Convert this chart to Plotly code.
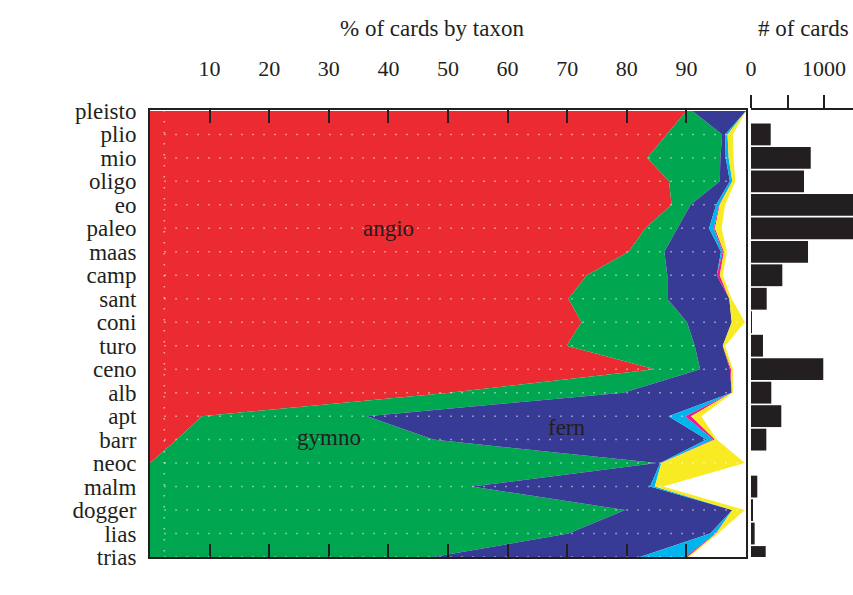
import plotly.graph_objects as go

# Stratigraphic stages, youngest at the top
stages = ["pleisto", "plio", "mio", "oligo", "eo", "paleo", "maas", "camp", "sant",
          "coni", "turo", "ceno", "alb", "apt", "barr", "neoc", "malm", "dogger",
          "lias", "trias"]

# Percentage of cards per taxon in each stage
angio = [90.0, 86.7, 83.4, 87.1, 87.5, 83.1, 80.3, 73.3, 70.2, 72.4, 69.9, 84.7,
         50.3, 8.7, 4.5, 0.0, 0.0, 0.0, 0.0, 0.0]
gymno = [1.0, 9.3, 12.3, 8.5, 3.2, 5.4, 6.0, 13.5, 16.6, 17.7, 21.5, 7.6,
         29.1, 27.7, 43.0, 85.0, 54.0, 79.7, 70.2, 47.5]
fern = [9.0, 0.5, 0.9, 1.7, 4.3, 5.3, 9.5, 8.3, 10.4, 7.5, 4.7, 5.0,
        18.2, 50.6, 45.9, 0.6, 29.9, 18.0, 23.8, 34.7]
group_c = [0.0, 0.4, 0.5, 0.4, 0.5, 0.8, 0.3, 0.0, 0.0, 0.0, 0.0, 0.0,
           0.0, 2.8, 1.1, 0.2, 0.8, 0.0, 0.9, 7.6]
group_m = [0.0, 0.0, 0.0, 0.0, 0.1, 0.2, 0.2, 0.5, 0.0, 0.0, 0.0, 0.2,
           0.0, 1.0, 0.3, 0.0, 0.0, 0.0, 0.1, 0.4]
group_y = [0.0, 0.9, 0.8, 0.5, 0.9, 1.1, 0.5, 0.5, 0.4, 2.2, 0.4, 0.3,
           0.2, 1.7, 0.3, 14.0, 1.4, 2.1, 0.3, 0.3]

# Total number of cards per stage
cards = [0, 270, 818, 726, 1600, 1550, 781, 429, 215, 10, 164, 990,
         278, 415, 210, 0, 86, 15, 50, 201]

pct_ticks = [10, 20, 30, 40, 50, 60, 70, 80, 90]
card_ticks = [0, 500, 1000]
card_ticktext = ["0", "", "1000"]

series = [
    ("angio", angio, "#EB2A31"),
    ("gymno", gymno, "#00A650"),
    ("fern", fern, "#373B95"),
    ("group c", group_c, "#00B4EE"),
    ("group m", group_m, "#EC1C8D"),
    ("group y", group_y, "#F8EB24"),
]

INK = "#231F20"
FONT = "Liberation Serif"
W, H = 853, 595

# pixel layout helpers
def px_x(p):
    return p / W

def px_y(p):
    return 1 - p / H

fig = go.Figure()

for name, vals, col in series:
    fig.add_trace(go.Scatter(
        x=vals, y=stages, name=name, stackgroup="taxa", orientation="h",
        mode="lines", line=dict(width=0, color=col), fillcolor=col,
        hoverinfo="x+y+name", showlegend=False,
    ))

fig.add_trace(go.Bar(
    x=cards, y=stages, orientation="h", xaxis="x2", yaxis="y2",
    marker=dict(color=INK, line=dict(width=0)), showlegend=False,
))

# dotted white guides over the stacked areas
DOT = dict(color="rgba(255,255,255,0.6)", width=1.5, dash="1.5px,9.5px")
shapes = []
for i in range(1, len(stages)):
    shapes.append(dict(type="line", xref="x", yref="y", x0=2.4, x1=100,
                       y0=i, y1=i, layer="above", line=DOT))
shapes.append(dict(type="line", xref="x", yref="y", x0=2.4, x1=2.4,
                   y0=-0.04, y1=19, layer="above", line=DOT))

annotations = [
    dict(text="% of cards by taxon", xref="paper", yref="paper",
         x=px_x(432), y=px_y(28), showarrow=False, xanchor="center",
         yanchor="middle", font=dict(family=FONT, size=23, color=INK)),
    dict(text="# of cards", xref="paper", yref="paper",
         x=px_x(803), y=px_y(28), showarrow=False, xanchor="center",
         yanchor="middle", font=dict(family=FONT, size=23, color=INK)),
    dict(text="angio", xref="x", yref="y", x=40, y=5, showarrow=False,
         font=dict(family=FONT, size=23, color=INK)),
    dict(text="gymno", xref="x", yref="y", x=30, y=13.9, showarrow=False,
         font=dict(family=FONT, size=23, color=INK)),
    dict(text="fern", xref="x", yref="y", x=70, y=13.5, showarrow=False,
         font=dict(family=FONT, size=23, color=INK)),
]

ydom = [px_y(557), px_y(110)]

fig.update_layout(
    width=W, height=H,
    margin=dict(l=0, r=0, t=0, b=0, autoexpand=False),
    paper_bgcolor="white", plot_bgcolor="white",
    bargap=0.07,
    shapes=shapes, annotations=annotations,
    xaxis=dict(
        domain=[px_x(150), px_x(746)], range=[0, 100], side="top",
        tickmode="array", tickvals=pct_ticks, ticks="inside", ticklen=13,
        tickwidth=2, tickcolor=INK, showline=True, linewidth=2,
        linecolor=INK, mirror="ticks", showgrid=False, zeroline=False,
        tickfont=dict(family=FONT, size=22, color=INK),
        ticklabelstandoff=23, anchor="y", automargin=False,
    ),
    yaxis=dict(
        domain=ydom, type="category", categoryorder="array",
        categoryarray=stages, range=[19, -0.04], showline=True,
        linewidth=2, linecolor=INK, mirror=True, ticks="",
        tickmode="array", tickvals=stages, ticktext=stages,
        showgrid=False, zeroline=False,
        tickfont=dict(family=FONT, size=23, color=INK),
        ticklabelstandoff=7, anchor="x", automargin=False,
    ),
    xaxis2=dict(
        domain=[px_x(751), 1.0], range=[0, 1397], side="top", anchor="y2",
        tickmode="array", tickvals=card_ticks, ticktext=card_ticktext,
        ticks="outside", ticklen=13, tickwidth=2, tickcolor=INK,
        showline=True, linewidth=2, linecolor=INK, showgrid=False,
        zeroline=False, tickfont=dict(family=FONT, size=22, color=INK),
        ticklabelstandoff=10, automargin=False,
    ),
    yaxis2=dict(
        domain=ydom, type="category", categoryorder="array",
        categoryarray=stages, range=[19, -0.04], anchor="x2",
        visible=False, showgrid=False, automargin=False,
    ),
)

fig.write_html("out.html")
